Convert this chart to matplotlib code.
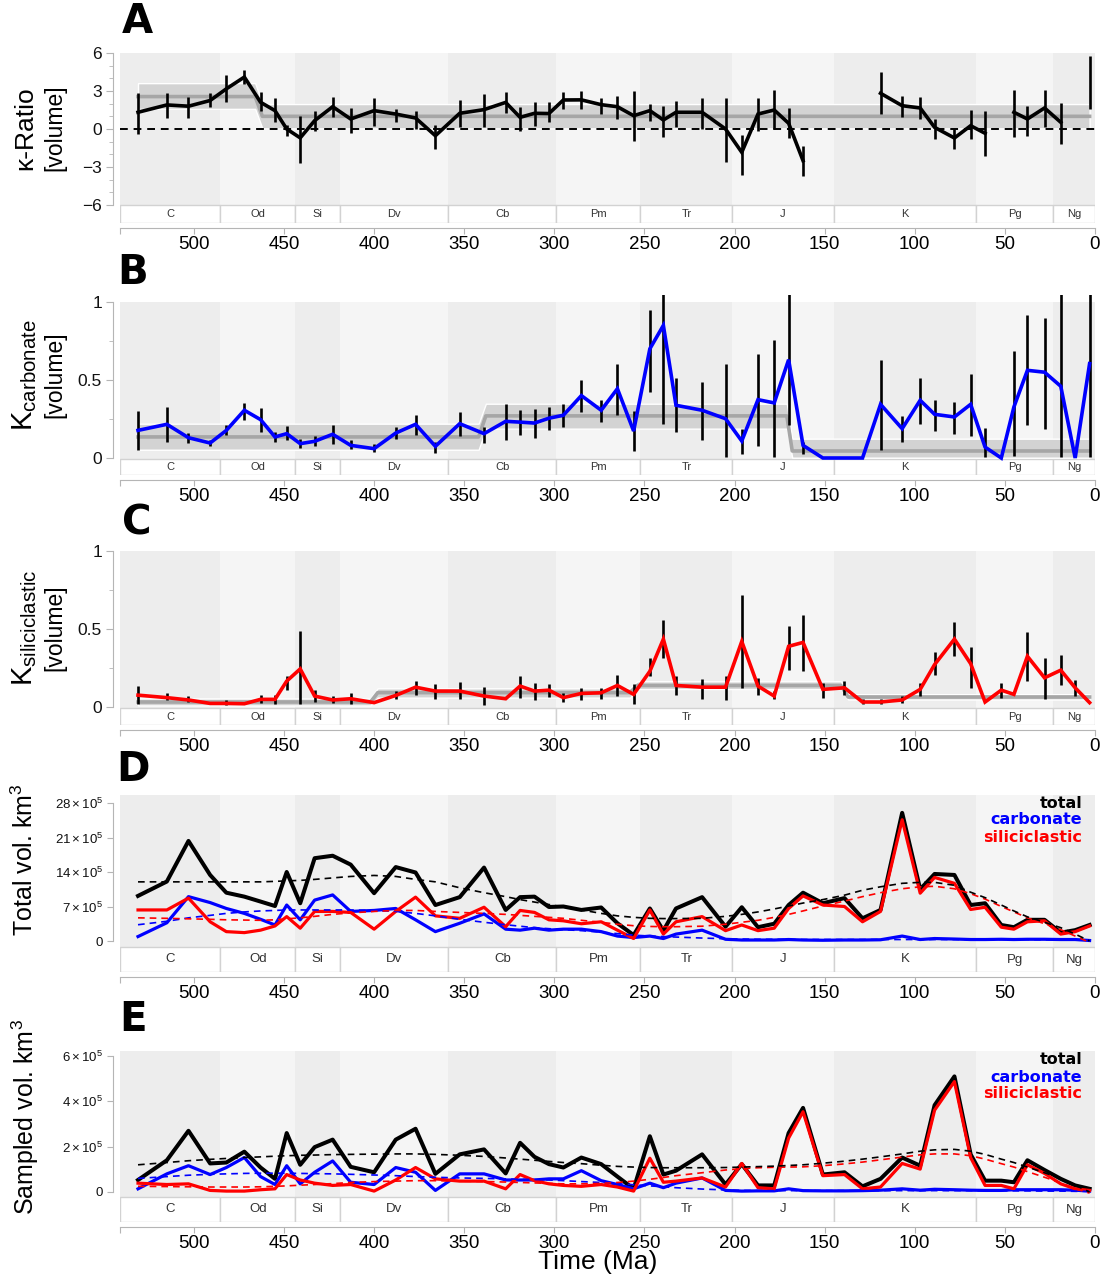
import numpy as np
import matplotlib.pyplot as plt
from matplotlib.patches import Rectangle

plt.rcParams['font.family'] = ['Liberation Sans', 'DejaVu Sans']
plt.rcParams['mathtext.fontset'] = 'custom'
plt.rcParams['mathtext.rm'] = 'Liberation Sans'
plt.rcParams['mathtext.it'] = 'Liberation Sans:italic'
plt.rcParams['mathtext.bf'] = 'Liberation Sans:bold'

nan = np.nan

# geological periods (Ma)
periods = ['C', 'Od', 'Si', 'Dv', 'Cb', 'Pm', 'Tr', 'J', 'K', 'Pg', 'Ng']
period_base = [541.0, 485.4, 443.8, 419.2, 358.9, 298.9, 252.2, 201.3, 145.0, 66.0, 23.03]
period_top = period_base[1:] + [0.0]

# stage midpoints (Ma)
t_mid = [531, 515, 503, 491, 482, 472, 463, 455, 448.5, 441,
         433, 423, 413, 400, 388, 377, 366, 352.5, 339, 327,
         319, 311, 303, 295, 285, 274, 265, 256, 247, 239.5,
         232.5, 218, 205, 196, 187, 178, 170, 162, 151, 139,
         129, 119, 107, 97, 89, 78, 69, 61, 52, 45,
         37.5, 28, 19, 11, 3]

# A: kappa ratio
kratio = [1.32, 1.9, 1.8, 2.25, 3.17, 4.1, 2.11, 1.45, 0.0, -0.7,
          0.66, 1.76, 0.79, 1.45, 1.18, 0.87, -0.53, 1.24, 1.53, 2.1,
          0.92, 1.24, 1.22, 2.29, 2.3, 1.92, 1.76, 1.05, 1.45, 0.71,
          1.32, 1.32, 0.0, -1.84, 1.18, 1.5, 0.45, -2.5, nan, nan,
          nan, 2.82, 1.84, 1.66, 0.13, -0.71, 0.26, -0.34, nan, 1.32,
          0.79, 1.66, 0.53, nan, 3.68]
kratio_lo = [-0.4, 0.87, 0.87, 1.75, 2.1, 3.57, 1.45, 0.52, -0.53, -2.65,
             -0.13, 0.92, -0.34, 0.26, 0.53, 0.0, -1.58, 0.13, 0.13, 1.24,
             -0.13, 0.26, 0.53, 1.58, 1.58, 1.18, 0.79, -0.92, 0.66, -0.66,
             0.18, 0.0, -2.63, -3.6, -0.18, 0.0, -0.71, -3.68, nan, nan,
             nan, 1.18, 0.92, 0.79, -0.79, -1.58, -0.79, -2.1, nan, -0.6,
             -0.53, 0.18, -1.18, nan, 1.58]
kratio_hi = [2.83, 2.83, 2.5, 2.83, 4.23, 4.68, 2.9, 2.46, 0.34, 1.06,
             1.45, 2.5, 1.66, 2.45, 1.58, 1.45, 0.34, 2.29, 2.76, 2.9,
             1.71, 2.1, 2.1, 2.9, 2.97, 2.45, 2.58, 2.97, 1.97, 1.84,
             2.24, 2.45, 2.45, -0.45, 2.45, 3.08, 1.66, -1.37, nan, nan,
             nan, 4.47, 2.63, 2.5, 0.79, 0.0, 1.5, 1.45, nan, 3.08,
             1.84, 3.08, 2.03, nan, 5.79]
# (start, end, mean, low, high)
kratio_band = [(531, 466, 2.56, 1.59, 3.62), (462, 3, 1.0, 0.05, 1.97)]

# B: K carbonate
kcarb = [0.177, 0.216, 0.13, 0.096, 0.177, 0.306, 0.246, 0.135, 0.156, 0.092,
         0.107, 0.152, 0.081, 0.06, 0.16, 0.216, 0.075, 0.22, 0.156, 0.235,
         0.23, 0.224, 0.255, 0.274, 0.4, 0.306, 0.444, 0.173, 0.70, 0.85,
         0.338, 0.306, 0.252, 0.109, 0.374, 0.353, 0.63, 0.081, 0.0, 0.0,
         0.0, 0.344, 0.188, 0.37, 0.28, 0.263, 0.344, 0.07, 0.0, 0.327,
         0.562, 0.55, 0.46, 0.0, 0.605]
kcarb_lo = [0.053, 0.103, 0.096, 0.079, 0.145, 0.246, 0.167, 0.103, 0.113, 0.066,
            0.075, 0.092, 0.06, 0.038, 0.124, 0.145, 0.032, 0.139, 0.096, 0.118,
            0.145, 0.13, 0.18, 0.2, 0.295, 0.23, 0.274, 0.045, 0.42, 0.216,
            0.167, 0.118, 0.006, 0.024, 0.075, 0.006, 0.21, 0.024, nan, nan,
            nan, 0.05, 0.103, 0.216, 0.173, 0.156, 0.139, 0.006, nan, 0.01,
            0.21, 0.188, 0.006, nan, 0.006]
kcarb_hi = [0.30, 0.327, 0.16, 0.118, 0.21, 0.353, 0.32, 0.167, 0.203, 0.124,
            0.139, 0.21, 0.113, 0.088, 0.2, 0.274, 0.103, 0.295, 0.2, 0.344,
            0.31, 0.316, 0.33, 0.344, 0.5, 0.374, 0.6, 0.3, 0.95, 1.1,
            0.51, 0.487, 0.6, 0.188, 0.665, 0.754, 1.1, 0.103, nan, nan,
            nan, 0.63, 0.267, 0.515, 0.374, 0.36, 0.54, 0.195, nan, 0.686,
            0.915, 0.9, 1.1, nan, 1.1]
kcarb_band = [(531, 342, 0.135, 0.053, 0.22), (338, 171, 0.27, 0.188, 0.348),
              (168, 3, 0.045, 0.002, 0.124)]

# C: K siliciclastic
ksil = [0.076, 0.06, 0.045, 0.023, 0.023, 0.021, 0.049, 0.049, 0.166, 0.244,
        0.07, 0.045, 0.053, 0.028, 0.074, 0.127, 0.102, 0.102, 0.07, 0.053,
        0.134, 0.102, 0.108, 0.06, 0.087, 0.091, 0.138, 0.081, 0.229, 0.435,
        0.138, 0.127, 0.127, 0.42, 0.134, 0.07, 0.389, 0.414, 0.113, 0.123,
        0.032, 0.032, 0.045, 0.113, 0.272, 0.435, 0.278, 0.032, 0.108, 0.081,
        0.325, 0.187, 0.236, 0.123, 0.028]
ksil_lo = [0.017, 0.045, 0.03, nan, 0.01, nan, 0.025, 0.017, 0.11, 0.017,
           0.03, 0.023, 0.017, nan, 0.05, 0.08, 0.053, 0.049, 0.01, nan,
           0.06, 0.045, 0.066, 0.03, 0.045, 0.049, 0.07, 0.017, 0.197, 0.314,
           0.074, 0.053, 0.045, 0.123, 0.08, 0.053, 0.24, 0.229, 0.06, 0.074,
           0.017, 0.017, 0.028, 0.07, 0.208, 0.325, 0.123, nan, 0.06, nan,
           0.166, 0.053, 0.138, 0.07, nan]
ksil_hi = [0.134, 0.087, 0.07, nan, 0.045, nan, 0.074, 0.08, 0.2, 0.484,
           0.106, 0.07, 0.087, nan, 0.1, 0.166, 0.145, 0.159, 0.13, nan,
           0.2, 0.151, 0.15, 0.087, 0.123, 0.123, 0.208, 0.145, 0.314, 0.558,
           0.197, 0.18, 0.2, 0.718, 0.187, 0.1, 0.52, 0.59, 0.155, 0.166,
           0.049, 0.053, 0.07, 0.151, 0.35, 0.548, 0.384, nan, 0.151, nan,
           0.478, 0.314, 0.335, 0.176, nan]
ksil_band = [(531, 402, 0.032, 0.01, 0.055), (398, 258, 0.092, 0.06, 0.12),
             (254, 141, 0.138, 0.115, 0.165), (137, 3, 0.064, 0.048, 0.082)]

# D: total volume (x 10^5 km^3)
tot_total = [9.15, 12.07, 20.3, 13.4, 9.8, 9.0, 8.0, 7.1, 14.0, 7.66,
             16.8, 17.3, 15.5, 9.7, 15.0, 13.9, 7.3, 8.9, 14.9, 6.3,
             8.9, 9.0, 6.9, 7.0, 6.3, 6.8, 3.6, 1.2, 6.6, 2.1,
             6.6, 8.9, 2.9, 6.85, 2.8, 3.5, 7.3, 9.8, 7.66, 8.7,
             4.6, 6.3, 26.0, 10.5, 13.6, 13.4, 7.3, 7.66, 3.25, 2.8,
             4.3, 4.3, 1.7, 2.2, 3.25]
tot_carb = [0.9, 3.7, 9.0, 7.8, 6.6, 5.6, 4.4, 3.25, 7.3, 4.3,
            8.3, 9.35, 6.0, 6.2, 6.6, 4.3, 1.9, 3.6, 5.5, 2.4,
            2.2, 2.6, 2.2, 2.4, 2.4, 1.9, 1.0, 0.7, 1.0, 0.5,
            1.4, 2.2, 0.35, 0.2, 0.2, 0.2, 0.3, 0.2, 0.15, 0.2,
            0.2, 0.25, 1.0, 0.3, 0.5, 0.4, 0.3, 0.3, 0.35, 0.3,
            0.35, 0.35, 0.3, 0.3, 0.1]
tot_sil = [6.3, 6.3, 8.7, 3.9, 1.9, 1.7, 2.2, 3.05, 4.95, 2.6,
           6.0, 6.0, 5.8, 2.4, 6.0, 8.9, 5.1, 4.6, 6.85, 2.9,
           6.2, 5.8, 4.3, 4.1, 3.5, 3.9, 2.2, 0.5, 6.3, 1.4,
           3.9, 4.95, 2.1, 3.25, 2.1, 2.6, 6.6, 9.15, 7.3, 7.0,
           3.9, 6.0, 24.6, 9.7, 12.9, 11.7, 6.4, 6.85, 2.8, 2.4,
           3.9, 4.1, 1.4, 1.9, 3.05]
tot_total_fit = [12.0, 12.0, 12.0, 12.0, 12.0, 12.0, 12.0, 12.1, 12.2, 12.3,
                 12.5, 12.8, 13.1, 13.3, 13.1, 12.5, 12.0, 10.8, 9.8, 9.0,
                 8.4, 7.9, 7.4, 6.9, 6.3, 5.6, 5.1, 4.8, 4.6, 4.55,
                 4.55, 4.6, 5.0, 5.4, 5.9, 6.5, 7.1, 7.7, 8.4, 9.3,
                 10.3, 11.0, 11.7, 11.9, 11.9, 11.3, 9.9, 8.8, 7.3, 6.1,
                 4.9, 3.8, 2.7, 1.4, 0.0]
tot_carb_fit = [3.3, 4.0, 4.7, 5.2, 5.6, 5.9, 6.1, 6.2, 6.3, 6.3,
                6.3, 6.3, 6.3, 6.2, 6.0, 5.6, 5.1, 4.4, 3.8, 3.3,
                3.0, 2.7, 2.5, 2.3, 2.1, 1.8, 1.5, 1.2, 1.0, 0.9,
                0.8, 0.6, 0.45, 0.4, 0.35, 0.35, 0.3, 0.3, 0.3, 0.3,
                0.3, 0.3, 0.3, 0.3, 0.3, 0.3, 0.3, 0.3, 0.3, 0.3,
                0.3, 0.25, 0.2, 0.2, 0.15]
tot_sil_fit = [4.7, 4.6, 4.5, 4.4, 4.3, 4.25, 4.2, 4.3, 4.5, 4.7,
               5.0, 5.4, 5.7, 6.0, 6.2, 6.2, 6.0, 5.8, 5.6, 5.4,
               5.2, 5.0, 4.8, 4.6, 4.2, 3.8, 3.4, 3.1, 2.95, 2.9,
               2.9, 3.0, 3.4, 3.8, 4.2, 4.8, 5.4, 6.1, 7.1, 8.1,
               9.0, 9.8, 10.6, 11.0, 11.1, 10.6, 9.6, 8.5, 7.0, 5.9,
               4.7, 3.5, 2.3, 1.0, -0.3]

# E: sampled volume (x 10^5 km^3)
samp_total = [0.53, 1.4, 2.7, 1.26, 1.3, 1.78, 1.08, 0.58, 2.6, 1.2,
              1.98, 2.31, 1.11, 0.87, 2.31, 2.79, 0.8, 1.66, 1.88, 0.82,
              2.17, 1.55, 1.23, 1.08, 1.52, 1.23, 0.68, 0.14, 2.46, 0.77,
              0.94, 1.66, 0.33, 1.23, 0.29, 0.29, 2.6, 3.71, 0.77, 0.87,
              0.25, 0.58, 1.52, 1.16, 3.83, 5.1, 1.66, 0.5, 0.5, 0.43,
              1.4, 0.97, 0.58, 0.29, 0.14]
samp_carb = [0.14, 0.8, 1.16, 0.77, 1.08, 1.52, 0.68, 0.33, 1.16, 0.36,
             0.87, 1.37, 0.43, 0.33, 1.08, 0.87, 0.07, 0.8, 0.8, 0.53,
             0.53, 0.53, 0.58, 0.58, 0.94, 0.5, 0.33, 0.14, 0.39, 0.19,
             0.39, 0.62, 0.07, 0.04, 0.05, 0.05, 0.14, 0.06, 0.05, 0.05,
             0.06, 0.08, 0.14, 0.08, 0.12, 0.1, 0.08, 0.07, 0.07, 0.1,
             0.1, 0.1, 0.1, 0.08, 0.04]
samp_sil = [0.39, 0.33, 0.36, 0.07, 0.04, 0.04, 0.1, 0.14, 0.77, 0.53,
            0.39, 0.29, 0.33, 0.04, 0.53, 1.08, 0.58, 0.48, 0.48, 0.14,
            0.77, 0.5, 0.36, 0.29, 0.25, 0.33, 0.22, 0.04, 1.49, 0.43,
            0.48, 0.62, 0.22, 1.26, 0.19, 0.14, 2.38, 3.54, 0.72, 0.77,
            0.14, 0.22, 1.26, 1.01, 3.61, 4.87, 1.52, 0.29, 0.29, 0.14,
            1.2, 0.82, 0.36, 0.14, 0.07]
samp_total_fit = [1.2, 1.3, 1.38, 1.44, 1.48, 1.52, 1.55, 1.58, 1.6, 1.62,
                  1.63, 1.65, 1.66, 1.67, 1.68, 1.68, 1.66, 1.62, 1.57, 1.5,
                  1.45, 1.4, 1.35, 1.3, 1.25, 1.18, 1.13, 1.1, 1.08, 1.07,
                  1.07, 1.07, 1.08, 1.1, 1.12, 1.14, 1.17, 1.2, 1.27, 1.36,
                  1.45, 1.55, 1.68, 1.8, 1.86, 1.88, 1.8, 1.66, 1.45, 1.3,
                  1.1, 0.85, 0.6, 0.3, 0.0]
samp_carb_fit = [0.6, 0.68, 0.74, 0.78, 0.8, 0.82, 0.83, 0.83, 0.83, 0.82,
                 0.81, 0.8, 0.78, 0.75, 0.72, 0.68, 0.65, 0.62, 0.6, 0.58,
                 0.56, 0.55, 0.53, 0.5, 0.46, 0.42, 0.37, 0.32, 0.27, 0.23,
                 0.19, 0.13, 0.09, 0.07, 0.06, 0.06, 0.06, 0.06, 0.06, 0.06,
                 0.06, 0.06, 0.06, 0.06, 0.06, 0.06, 0.06, 0.05, 0.05, 0.05,
                 0.05, 0.04, 0.04, 0.03, 0.03]
samp_sil_fit = [0.25, 0.24, 0.23, 0.22, 0.22, 0.22, 0.23, 0.25, 0.27, 0.3,
                0.33, 0.37, 0.42, 0.46, 0.48, 0.5, 0.5, 0.48, 0.46, 0.44,
                0.42, 0.4, 0.38, 0.36, 0.36, 0.38, 0.42, 0.48, 0.56, 0.64,
                0.72, 0.85, 0.97, 1.03, 1.07, 1.09, 1.1, 1.11, 1.16, 1.24,
                1.32, 1.42, 1.54, 1.64, 1.68, 1.68, 1.6, 1.45, 1.25, 1.1,
                0.9, 0.65, 0.4, 0.15, -0.05]

# ---- layout (pixels) ----
W, H = 1109, 1276
X0, X1 = 120, 1095
T_OLD = 541.0
BLUE, RED = '#0000ff', '#ff0000'
AXIS_GREY = '#b5b5b5'
BG = ['#ededed', '#f5f5f5']

fig = plt.figure(figsize=(W / 100, H / 100), dpi=100)


def make_axes(top_px, bot_px):
    return fig.add_axes([X0 / W, 1 - bot_px / H, (X1 - X0) / W, (bot_px - top_px) / H])


def px_scale(cal):
    (v1, p1), (v0, p0) = cal
    ppu = (p0 - p1) / (v1 - v0)
    return lambda px: v1 - (px - p1) / ppu


def base_panel(ax, cal, top_px, gray_px, strip_bot_px, ybounds, strip_fs):
    f = px_scale(cal)
    ax.set_xlim(T_OLD, 0)
    ax.set_ylim(f(strip_bot_px), f(top_px))
    g_hi, g_lo = f(gray_px[0]), f(gray_px[1])
    s_lo = f(strip_bot_px)
    for i, (name, b, tp) in enumerate(zip(periods, period_base, period_top)):
        ax.add_patch(Rectangle((tp, g_lo), b - tp, g_hi - g_lo, fc=BG[i % 2],
                               ec='none', zorder=0))
        ax.add_patch(Rectangle((tp, s_lo), b - tp, g_lo - s_lo, fc='white',
                               ec='#d2d2d2', lw=1, zorder=1))
        ax.text((tp + b) / 2, (s_lo + g_lo) / 2, name, ha='center', va='center',
                fontsize=strip_fs, color='#333333', zorder=2)
    for s in ('top', 'right'):
        ax.spines[s].set_visible(False)
    ax.spines['left'].set_position(('outward', 5))
    ax.spines['left'].set_bounds(*ybounds)
    ax.spines['bottom'].set_position(('outward', 3.5))
    ax.spines['bottom'].set_bounds(0, T_OLD)
    for s in ('left', 'bottom'):
        ax.spines[s].set_color(AXIS_GREY)
    ax.set_xticks([T_OLD] + list(range(500, -1, -50)))
    ax.set_xticklabels([''] + [str(v) for v in range(500, -1, -50)])
    ax.tick_params(axis='x', length=4, color=AXIS_GREY, labelsize=13.5, pad=2)
    ax.tick_params(axis='y', which='both', color=AXIS_GREY, pad=3, labelcolor='#111111')
    ax.patch.set_visible(False)


def draw_band(ax, segs):
    xs, mid, lo, hi = [], [], [], []
    for s, e, m, l, h in segs:
        xs += [s, e]
        mid += [m, m]
        lo += [l, l]
        hi += [h, h]
    ax.fill_between(xs, lo, hi, color='#d3d3d3', ec='white', lw=1, zorder=2)
    ax.plot(xs, mid, color='#a6a6a6', lw=2.6, zorder=2.5)


def k_panel(ax, y, lo, hi, color, band):
    draw_band(ax, band)
    ax.vlines(t_mid, lo, hi, color='black', lw=1.9, zorder=4)
    ax.plot(t_mid, y, color=color, lw=2.6, zorder=5, solid_joinstyle='miter')


def vol_panel(ax, tot, carb, sil, tot_fit, carb_fit, sil_fit):
    ax.plot(t_mid, tot, color='black', lw=2.9, zorder=4)
    ax.plot(t_mid, carb, color=BLUE, lw=2.3, zorder=4.2)
    ax.plot(t_mid, sil, color=RED, lw=2.3, zorder=4.4)
    for fit, c in ((carb_fit, BLUE), (sil_fit, RED), (tot_fit, 'black')):
        ax.plot(t_mid, fit, color=c, lw=1.2, ls=(0, (4, 3)), zorder=5)


# A
axA = make_axes(50, 223)
base_panel(axA, [(6, 53), (-6, 205)], 50, (53, 205), 223, (-6, 6), 8)
axA.set_yticks([-6, -3, 0, 3, 6])
axA.set_yticks(np.arange(-6, 7), minor=True)
axA.tick_params(axis='y', which='major', length=5, labelsize=12.5)
axA.tick_params(axis='y', which='minor', length=3)
axA.plot([T_OLD, 0], [0, 0], color='black', lw=1.4, ls=(0, (4, 3)), zorder=3)
k_panel(axA, kratio, kratio_lo, kratio_hi, 'black', kratio_band)

# B
axB = make_axes(295, 475)
base_panel(axB, [(1, 302), (0, 458)], 295, (302, 459), 475, (0, 1), 8)
axB.set_yticks([0, 0.5, 1])
axB.set_yticklabels(['0', '0.5', '1'])
axB.set_yticks([0.25, 0.75], minor=True)
axB.tick_params(axis='y', which='major', length=5, labelsize=12.5)
axB.tick_params(axis='y', which='minor', length=3)
k_panel(axB, kcarb, kcarb_lo, kcarb_hi, BLUE, kcarb_band)

# C
axC = make_axes(544, 725)
base_panel(axC, [(1, 551), (0, 707)], 544, (551, 708), 725, (0, 1), 8)
axC.set_yticks([0, 0.5, 1])
axC.set_yticklabels(['0', '0.5', '1'])
axC.set_yticks([0.25, 0.75], minor=True)
axC.tick_params(axis='y', which='major', length=5, labelsize=12.5)
axC.tick_params(axis='y', which='minor', length=3)
k_panel(axC, ksil, ksil_lo, ksil_hi, RED, ksil_band)

# D
axD = make_axes(795, 972)
base_panel(axD, [(28, 803), (0, 941)], 795, (795, 947), 972, (0, 28), 9.5)
axD.set_yticks([0, 7, 14, 21, 28])
axD.set_yticklabels(['0'] + [r'$%d\times10^{5}$' % v for v in (7, 14, 21, 28)])
axD.tick_params(axis='y', length=4, labelsize=9.5)
vol_panel(axD, tot_total, tot_carb, tot_sil, tot_total_fit, tot_carb_fit, tot_sil_fit)

# E
axE = make_axes(1051, 1222)
base_panel(axE, [(6, 1056), (0, 1192)], 1051, (1051, 1197), 1222, (0, 6), 9.5)
axE.set_yticks([0, 2, 4, 6])
axE.set_yticklabels(['0'] + [r'$%d\times10^{5}$' % v for v in (2, 4, 6)])
axE.tick_params(axis='y', length=4, labelsize=9.5)
vol_panel(axE, samp_total, samp_carb, samp_sil, samp_total_fit, samp_carb_fit, samp_sil_fit)


def ftext(x_px, y_px, s, **kw):
    fig.text(x_px / W, 1 - y_px / H, s, **kw)


# panel letters
for letter, (lx, ly) in zip('ABCDE', [(137, 22), (133, 273), (137, 523), (133, 770), (133, 1020)]):
    ftext(lx, ly, letter, fontsize=29, fontweight='bold', family='DejaVu Sans',
          ha='center', va='center')

# y-axis titles
ftext(25, 128, 'κ-Ratio', rotation=90, fontsize=19, ha='center', va='center')
ftext(55, 128, '[volume]', rotation=90, fontsize=16.5, ha='center', va='center')
ftext(25, 375, r'K$_{\mathrm{carbonate}}$', rotation=90, fontsize=21, ha='center', va='center')
ftext(55, 375, '[volume]', rotation=90, fontsize=16.5, ha='center', va='center')
ftext(25, 628, r'K$_{\mathrm{siliciclastic}}$', rotation=90, fontsize=21, ha='center', va='center')
ftext(55, 628, '[volume]', rotation=90, fontsize=16.5, ha='center', va='center')
ftext(25, 860, r'Total vol. km$^{3}$', rotation=90, fontsize=18, ha='center', va='center')
ftext(25, 1117, r'Sampled vol. km$^{3}$', rotation=90, fontsize=18, ha='center', va='center')
ftext(598, 1262, 'Time (Ma)', fontsize=19, ha='center', va='center')

# series key for the volume panels
for top in (803, 1060):
    for k, (lab, c) in enumerate((('total', 'black'), ('carbonate', BLUE),
                                  ('siliciclastic', RED))):
        ftext(1082, top + 17 * k, lab, color=c, fontsize=11.5, fontweight='bold',
              family='DejaVu Sans', ha='right', va='center')

fig.savefig('out.png', dpi=100)
